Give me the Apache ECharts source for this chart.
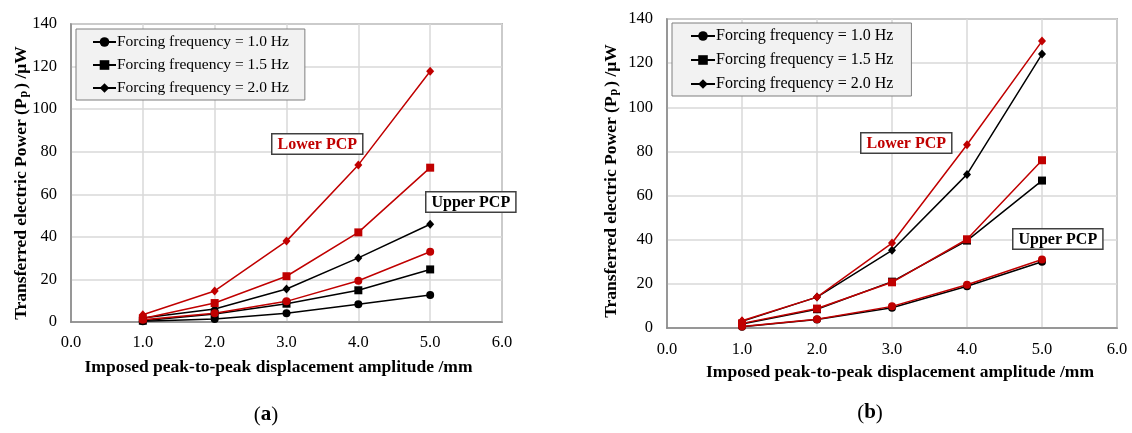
<!DOCTYPE html>
<html>
<head>
<meta charset="utf-8">
<script src="https://cdn.jsdelivr.net/npm/echarts@6/dist/echarts.min.js"></script>
<style>
  html, body { margin: 0; padding: 0; background: #fff; }
  #main { width: 1132px; height: 433px; }
</style>
</head>
<body>
<div id="main"></div>
<script>
// data
var amplitude = [1.0, 2.0, 3.0, 4.0, 5.0];
var freqNames = ['Forcing frequency = 1.0 Hz', 'Forcing frequency = 1.5 Hz', 'Forcing frequency = 2.0 Hz'];
var xTicks = [0, 1, 2, 3, 4, 5, 6];
var yTicks = [0, 20, 40, 60, 80, 100, 120, 140];

// (a)
var aUpper10 = [0.3, 1.4, 4.1, 8.3, 12.7];
var aUpper15 = [0.6, 3.8, 8.6, 14.9, 24.7];
var aUpper20 = [1.9, 6.1, 15.5, 30.1, 45.9];
var aLower10 = [1.1, 4.1, 9.7, 19.4, 33.0];
var aLower15 = [1.6, 8.9, 21.5, 42.1, 72.5];
var aLower20 = [3.4, 14.6, 38.0, 73.8, 117.8];

// (b)
var bUpper10 = [0.6, 3.8, 9.2, 18.9, 30.0];
var bUpper15 = [1.8, 8.5, 21.0, 39.6, 66.8];
var bUpper20 = [3.0, 14.0, 35.2, 69.6, 124.1];
var bLower10 = [0.7, 4.0, 9.8, 19.6, 31.0];
var bLower15 = [2.1, 8.8, 20.7, 40.2, 76.0];
var bLower20 = [3.3, 14.0, 38.5, 83.0, 130.0];

var serif = '"Liberation Serif", "Times New Roman", serif';
var RED = '#c00000';
var BLACK = '#000000';

var dom = document.getElementById('main');
var myChart = echarts.init(dom, null, { renderer: 'canvas' });

function pairs(vals) {
  return vals.map(function (v, i) { return [amplitude[i], v]; });
}

function line(name, vals, color, symbol, size, idx) {
  return {
    name: name,
    type: 'line',
    xAxisIndex: idx,
    yAxisIndex: idx,
    data: pairs(vals),
    symbol: symbol,
    symbolSize: size,
    showSymbol: true,
    animation: false,
    itemStyle: { color: color },
    lineStyle: { color: color, width: 1.5 }
  };
}

function xAxisFor(idx, margin, gap, pad) {
  return {
    type: 'value',
    gridIndex: idx,
    min: xTicks[0],
    max: xTicks[xTicks.length - 1],
    interval: xTicks[1] - xTicks[0],
    name: 'Imposed peak-to-peak displacement amplitude /mm',
    nameLocation: 'middle',
    nameGap: gap,
    nameTextStyle: { fontFamily: serif, fontWeight: 'bold', fontSize: 17.5, color: '#000', padding: pad },
    axisLine: { show: true, onZero: false, lineStyle: { color: '#868686', width: 1.5 } },
    axisTick: { show: false },
    axisLabel: {
      margin: margin,
      fontFamily: serif, fontSize: 16.5, color: '#000',
      formatter: function (v) { return v.toFixed(1); }
    },
    splitLine: { show: true, lineStyle: { color: '#d9d9d9', width: 1.5 } }
  };
}

function yAxisFor(idx) {
  return {
    type: 'value',
    gridIndex: idx,
    min: yTicks[0],
    max: yTicks[yTicks.length - 1],
    interval: yTicks[1] - yTicks[0],
    axisLine: { show: true, lineStyle: { color: '#868686', width: 1.5 } },
    axisTick: { show: false },
    axisLabel: { margin: 14, fontFamily: serif, fontSize: 16.5, color: '#000' },
    splitLine: { show: true, lineStyle: { color: '#d9d9d9', width: 1.5 } }
  };
}

function legendFor(left, top, padH, gap, w, fs) {
  return {
    left: left,
    top: top,
    orient: 'vertical',
    selectedMode: false,
    data: freqNames.map(function (n) {
      return { name: n, itemStyle: { color: BLACK }, lineStyle: { color: BLACK } };
    }),
    backgroundColor: '#f2f2f2',
    borderColor: '#7f7f7f',
    borderWidth: 1,
    borderRadius: 0,
    padding: [5, padH, 4, padH],
    itemGap: gap,
    itemWidth: w,
    itemHeight: 12,
    textStyle: { fontFamily: serif, fontSize: fs, color: '#000', padding: [0, 0, 0, -4] }
  };
}

function tag(text, left, top, color) {
  return {
    type: 'text',
    left: left,
    top: top,
    z: 100,
    style: {
      text: text,
      font: 'bold 16px ' + serif,
      fill: color,
      backgroundColor: '#fff',
      borderColor: '#404040',
      borderWidth: 1.5,
      padding: [2, 5, 1, 5]
    }
  };
}

function yTitle(x, y) {
  return {
    type: 'text',
    x: x,
    y: y,
    rotation: Math.PI / 2,
    style: {
      text: '{m|Transferred electric Power (P}{s|p}{m|) /\u03bcW}',
      align: 'center',
      verticalAlign: 'middle',
      rich: {
        m: { font: 'bold 17.5px ' + serif, fill: '#000' },
        s: { font: 'bold 12px ' + serif, fill: '#000', verticalAlign: 'bottom', padding: [0, 2, 0, 1] }
      }
    }
  };
}

function panelLabel(letter, x, y) {
  return {
    type: 'text',
    x: x,
    y: y,
    style: {
      text: '{p|(}{b|' + letter + '}{p|)}',
      align: 'center',
      verticalAlign: 'middle',
      rich: {
        p: { font: '21px ' + serif, fill: '#000' },
        b: { font: 'bold 21px ' + serif, fill: '#000' }
      }
    }
  };
}

var option = {
  backgroundColor: '#fff',
  animation: false,
  grid: [
    { left: 71, top: 24, width: 431, height: 298, show: true, borderColor: '#868686', borderWidth: 1.5, backgroundColor: 'transparent', outerBoundsMode: 'none' },
    { left: 667, top: 19, width: 450, height: 309, show: true, borderColor: '#868686', borderWidth: 1.5, backgroundColor: 'transparent', outerBoundsMode: 'none' }
  ],
  xAxis: [xAxisFor(0, 12, 36, [0, 16, 0, 0]), xAxisFor(1, 13, 35, [0, 0, 0, 16])],
  yAxis: [yAxisFor(0), yAxisFor(1)],
  legend: [
    legendFor(76, 29, 16, 7, 23, 15.5),
    legendFor(672, 23, 18, 8, 24, 16)
  ],
  series: [
    // (a) upper PCP (black), then lower PCP (red) on top
    line(freqNames[0], aUpper10, BLACK, 'circle', 8, 0),
    line(freqNames[1], aUpper15, BLACK, 'rect', 8, 0),
    line(freqNames[2], aUpper20, BLACK, 'diamond', [8, 9], 0),
    line(freqNames[0], aLower10, RED, 'circle', 8, 0),
    line(freqNames[1], aLower15, RED, 'rect', 8, 0),
    line(freqNames[2], aLower20, RED, 'diamond', [8, 9], 0),
    // (b)
    line(freqNames[0], bUpper10, BLACK, 'circle', 8, 1),
    line(freqNames[1], bUpper15, BLACK, 'rect', 8, 1),
    line(freqNames[2], bUpper20, BLACK, 'diamond', [8, 9], 1),
    line(freqNames[0], bLower10, RED, 'circle', 8, 1),
    line(freqNames[1], bLower15, RED, 'rect', 8, 1),
    line(freqNames[2], bLower20, RED, 'diamond', [8, 9], 1)
  ],
  graphic: [
    yTitle(21, 183),
    yTitle(611, 181),
    tag('Lower PCP', 271, 133, RED),
    tag('Upper PCP', 425, 191, BLACK),
    tag('Lower PCP', 860, 132, RED),
    tag('Upper PCP', 1012, 228, BLACK),
    panelLabel('a', 266, 415),
    panelLabel('b', 870, 413)
  ]
};

if (option && typeof option === 'object') {
  myChart.setOption(option);
}

window.addEventListener('resize', myChart.resize);
</script>
</body>
</html>
